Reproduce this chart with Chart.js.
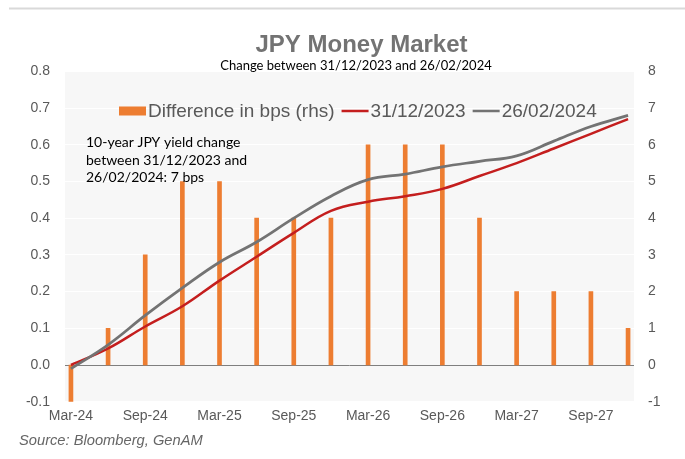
<!DOCTYPE html>
<html><head><meta charset="utf-8">
<script src="https://cdn.jsdelivr.net/npm/chart.js@4.4.1/dist/chart.umd.min.js"></script>
<style>html,body{margin:0;padding:0;background:#fff;}#wrap{width:685px;height:459px;}</style>
</head><body><div id="wrap"><canvas id="c" width="685" height="459"></canvas></div>
<script>
const categories = ['Mar-24','Jun-24','Sep-24','Dec-24','Mar-25','Jun-25','Sep-25','Dec-25','Mar-26','Jun-26','Sep-26','Dec-26','Mar-27','Jun-27','Sep-27','Dec-27'];
const diffBps = [-1, 1, 3, 5, 5, 4, 4, 4, 6, 6, 6, 4, 2, 2, 2, 1];
const curve20231231 = [0.00, 0.045, 0.105, 0.16, 0.23, 0.295, 0.36, 0.42, 0.445, 0.46, 0.48, 0.515, 0.55, 0.59, 0.63, 0.67];
const curve20240226 = [-0.01, 0.055, 0.135, 0.21, 0.28, 0.335, 0.40, 0.46, 0.505, 0.52, 0.54, 0.555, 0.57, 0.61, 0.65, 0.68];
const xTickIndices = [0, 2, 4, 6, 8, 10, 12, 14];
const seriesLabels = ['Difference in bps (rhs)', '31/12/2023', '26/02/2024'];
const titleText = 'JPY Money Market';
const subtitleText = 'Change between 31/12/2023 and 26/02/2024';
const noteLines = ['10-year JPY yield change', 'between 31/12/2023 and', '26/02/2024: 7 bps'];
const sourceText = 'Source: Bloomberg, GenAM';

const ORANGE = '#ED7D31', RED = '#C41E1E', GREY = '#737373', TXT = '#595959';
const SANS = '"Liberation Sans", Arial, sans-serif';
const NARROW = 'Lato, "Open Sans", sans-serif';

const toXY = arr => arr.map((v, i) => ({x: i, y: v}));

const decor = {
  id: 'decor',
  beforeDraw(chart) {
    const {ctx, chartArea: a} = chart;
    ctx.save();
    ctx.fillStyle = '#ffffff';
    ctx.fillRect(0, 0, chart.width, chart.height);
    ctx.fillStyle = '#d9d9d9';
    ctx.fillRect(9, 7.5, 676, 2);
    ctx.fillStyle = '#f7f7f7';
    ctx.fillRect(a.left, a.top, a.right - a.left, a.bottom - a.top);
    ctx.restore();
  },
  afterDraw(chart) {
    const {ctx} = chart;
    ctx.save();
    // title + subtitle
    ctx.textAlign = 'center';
    ctx.textBaseline = 'alphabetic';
    ctx.font = 'bold 24px ' + SANS;
    ctx.fillStyle = '#737373';
    ctx.fillText(titleText, 361.5, 52);
    ctx.font = '13px ' + NARROW;
    ctx.fillStyle = '#000000';
    ctx.fillText(subtitleText, 356, 70);
    ctx.textAlign = 'left';
    // legend
    ctx.font = '19px ' + SANS;
    ctx.textBaseline = 'middle';
    let x = 119; const cy = 111;
    const ds = chart.data.datasets;
    [0, 1, 2].forEach(k => {
      const d = ds[k];
      if (d.type === 'line') {
        ctx.strokeStyle = d.borderColor; ctx.lineWidth = 2.5;
        ctx.beginPath(); ctx.moveTo(x, cy); ctx.lineTo(x + 27, cy); ctx.stroke();
        x += 29;
      } else {
        ctx.fillStyle = d.backgroundColor;
        ctx.fillRect(x, cy - 4.5, 27, 9);
        x += 29;
      }
      ctx.fillStyle = TXT;
      ctx.fillText(d.label, x, cy + 0.5);
      x += ctx.measureText(d.label).width + 7;
    });
    // note
    ctx.font = '14px ' + NARROW;
    ctx.fillStyle = '#000000';
    ctx.textBaseline = 'alphabetic';
    noteLines.forEach((t, i) => ctx.fillText(t, 86, 146.7 + i * 17.8));
    // source
    ctx.font = 'italic 14.7px ' + SANS;
    ctx.fillStyle = '#666666';
    ctx.fillText(sourceText, 19, 445);
    ctx.restore();
  }
};

new Chart(document.getElementById('c'), {
  type: 'bar',
  data: {
    datasets: [
      {type: 'bar', label: seriesLabels[0], data: toXY(diffBps), yAxisID: 'y1', backgroundColor: ORANGE, barThickness: 4, order: 3},
      {type: 'line', label: seriesLabels[1], data: toXY(curve20231231), yAxisID: 'y', borderColor: RED, borderWidth: 2.5, pointRadius: 0, tension: 0.4, fill: false, order: 2},
      {type: 'line', label: seriesLabels[2], data: toXY(curve20240226), yAxisID: 'y', borderColor: GREY, borderWidth: 2.75, pointRadius: 0, tension: 0.4, fill: false, order: 1}
    ]
  },
  options: {
    responsive: false, animation: false, devicePixelRatio: 1,
    layout: {padding: {left: 0, right: 0, top: 71.4, bottom: 0}},
    plugins: {
      legend: {display: false},
      tooltip: {enabled: false},
      title: {display: false},
      subtitle: {display: false}
    },
    scales: {
      x: {
        type: 'linear', min: -0.16, max: 15.16, offset: false,
        grid: {display: false, drawTicks: false, offset: false}, border: {display: false},
        afterBuildTicks: s => { s.ticks = xTickIndices.map(v => ({value: v})); },
        ticks: {autoSkip: false, maxRotation: 0, padding: 6, color: TXT, font: {family: SANS, size: 14}, callback: v => categories[v]},
        afterFit: s => { s.height = 57.3; }
      },
      y: {
        position: 'left', min: -0.1, max: 0.8,
        ticks: {stepSize: 0.1, padding: 15, color: TXT, font: {family: SANS, size: 14}, callback: v => (Math.abs(v) < 1e-9 ? 0 : v).toFixed(1)},
        grid: {drawTicks: false, color: c => Math.abs(c.tick.value) < 1e-9 ? '#7f7f7f' : '#ffffff', lineWidth: 1},
        border: {display: false},
        afterFit: s => { s.width = 65; }
      },
      y1: {
        position: 'right', min: -1, max: 8,
        ticks: {stepSize: 1, padding: 14, color: TXT, font: {family: SANS, size: 14}},
        grid: {display: false, drawTicks: false}, border: {display: false},
        afterFit: s => { s.width = 51; }
      }
    }
  },
  plugins: [decor]
});
</script></body></html>
